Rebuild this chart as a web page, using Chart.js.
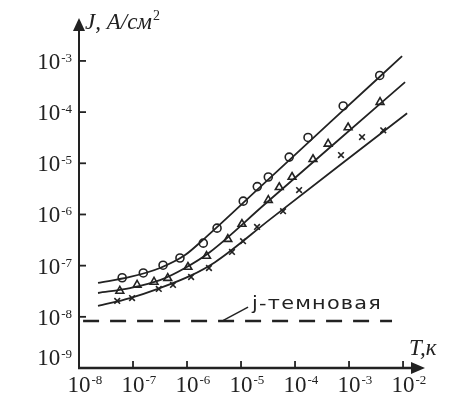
<!DOCTYPE html>
<html>
<head>
<meta charset="utf-8">
<script src="https://cdn.jsdelivr.net/npm/chart.js@4.4.0/dist/chart.umd.min.js"></script>
<style>
  html, body { margin: 0; padding: 0; background: #fff; }
  #wrap { width: 469px; height: 417px; }
</style>
</head>
<body>
<div id="wrap"><canvas id="chart" width="469" height="417"></canvas></div>
<script>
// ---- Данные (T — время, J — плотность тока, А/см²) ----
// Кружки
const circT = [6.3e-8, 1.55e-7, 3.6e-7, 7.4e-7, 2.0e-6, 3.6e-6, 1.1e-5, 2.0e-5, 3.2e-5, 7.8e-5, 1.74e-4, 7.8e-4, 3.7e-3];
const circJ = [5.8e-8, 7.2e-8, 1.02e-7, 1.41e-7, 2.75e-7, 5.4e-7, 1.82e-6, 3.5e-6, 5.4e-6, 1.32e-5, 3.2e-5, 1.32e-4, 5.2e-4];
// Треугольники
const triT = [5.7e-8, 1.19e-7, 2.45e-7, 4.4e-7, 1.04e-6, 2.3e-6, 5.7e-6, 1.04e-5, 3.2e-5, 5.1e-5, 8.8e-5, 2.15e-4, 4.1e-4, 9.6e-4, 3.75e-3];
const triJ = [3.2e-8, 4.2e-8, 4.8e-8, 5.7e-8, 9.4e-8, 1.54e-7, 3.3e-7, 6.5e-7, 1.91e-6, 3.4e-6, 5.4e-6, 1.2e-5, 2.4e-5, 5.0e-5, 1.57e-4];
// Крестики
const crossT = [5.1e-8, 9.6e-8, 3.0e-7, 5.5e-7, 1.19e-6, 2.55e-6, 6.8e-6, 1.09e-5, 1.98e-5, 6.0e-5, 1.19e-4, 7.1e-4, 1.74e-3, 4.3e-3];
const crossJ = [2.04e-8, 2.33e-8, 3.5e-8, 4.2e-8, 6.0e-8, 9.0e-8, 1.85e-7, 3.0e-7, 5.7e-7, 1.16e-6, 3.0e-6, 1.45e-5, 3.25e-5, 4.4e-5];

// Сглаженные кривые (опорные точки)
const circFitT = [2.25e-8, 8.8e-8, 3.16e-7, 9.2e-7, 2.15e-6, 2.25e-5, 4.45e-4, 9.6e-3];
const circFitJ = [4.6e-8, 6.0e-8, 9.0e-8, 1.61e-7, 3.46e-7, 3.41e-6, 6.28e-5, 1.24e-3];
const triFitT = [2.25e-8, 8.8e-8, 3.16e-7, 9.2e-7, 2.67e-6, 2.78e-5, 5.51e-4, 1.09e-2];
const triFitJ = [2.92e-8, 3.65e-8, 5.2e-8, 9.0e-8, 1.85e-7, 1.60e-6, 2.49e-5, 3.85e-4];
const crossFitT = [2.25e-8, 8.8e-8, 3.16e-7, 1.14e-6, 3.3e-6, 3.44e-5, 6.81e-4, 1.19e-2];
const crossFitJ = [1.63e-8, 2.33e-8, 3.65e-8, 6.3e-8, 1.17e-7, 8.03e-7, 9.25e-6, 9.5e-5];

// Темновой ток
const darkT = [1.19e-8, 6.25e-3];
const darkJ = [8.3e-9, 8.3e-9];
const darkLabel = 'j-темновая';
const darkLeader = [[4.7e-6, 8.5e-9], [1.35e-5, 1.55e-8]];

// Оси
const xTicks = [1e-8, 1e-7, 1e-6, 1e-5, 1e-4, 1e-3, 1e-2];
const xTickExp = ['-8', '-7', '-6', '-5', '-4', '-3', '-2'];
const yTicks = [1e-9, 1e-8, 1e-7, 1e-6, 1e-5, 1e-4, 1e-3];
const yTickExp = ['-9', '-8', '-7', '-6', '-5', '-4', '-3'];
const yTitle = 'J, A/см';
const xTitle = 'T,к';

const ink = '#222';
const pts = (xs, ys) => xs.map((x, i) => ({ x: x, y: ys[i] }));

// ======= Оси, подписи, стрелки =======
const axesPlugin = {
    id: 'axesDraw',
    afterDraw(chart) {
        const ctx = chart.ctx;
        const xs = chart.scales.x, ys = chart.scales.y;
        const x0 = xs.left, y0 = ys.bottom;
        ctx.save();
        ctx.strokeStyle = ink;
        ctx.fillStyle = ink;

        // ось Y
        ctx.lineWidth = 2;
        ctx.beginPath();
        ctx.moveTo(x0, y0 + 1);
        ctx.lineTo(x0, ys.top + 10);
        ctx.stroke();
        ctx.beginPath();
        ctx.moveTo(x0, ys.top);
        ctx.lineTo(x0 - 6, ys.top + 13);
        ctx.lineTo(x0 + 6, ys.top + 13);
        ctx.closePath();
        ctx.fill();

        // ось X
        ctx.lineWidth = 2.5;
        ctx.beginPath();
        ctx.moveTo(x0 - 1, y0);
        ctx.lineTo(xs.right - 10, y0);
        ctx.stroke();
        ctx.beginPath();
        ctx.moveTo(xs.right, y0);
        ctx.lineTo(xs.right - 14, y0 - 6);
        ctx.lineTo(xs.right - 14, y0 + 6);
        ctx.closePath();
        ctx.fill();

        const base = '23px "Liberation Serif", "Times New Roman", serif';
        const sup = '13px "Liberation Serif", "Times New Roman", serif';

        // деления и подписи X
        ctx.lineWidth = 1.8;
        xTicks.forEach((v, i) => {
            const px = xs.getPixelForValue(v);
            if (i > 0) {
                ctx.beginPath();
                ctx.moveTo(px, y0);
                ctx.lineTo(px, y0 - 7);
                ctx.stroke();
            }
            ctx.font = base;
            const w = ctx.measureText('10').width;
            ctx.textAlign = 'left';
            ctx.textBaseline = 'alphabetic';
            ctx.fillText('10', px - w / 2, 392);
            ctx.font = sup;
            ctx.fillText(xTickExp[i], px + w / 2 + 1, 384);
        });

        // деления и подписи Y
        yTicks.forEach((v, i) => {
            let py = ys.getPixelForValue(v);
            if (i > 0) {
                ctx.beginPath();
                ctx.moveTo(x0, py);
                ctx.lineTo(x0 + 7, py);
                ctx.stroke();
            } else {
                py -= 11;
            }
            ctx.font = base;
            const w = ctx.measureText('10').width;
            ctx.font = sup;
            const ws = ctx.measureText(yTickExp[i]).width;
            const left = x0 - 8 - ws - w;
            ctx.font = base;
            ctx.fillText('10', left, py + 8);
            ctx.font = sup;
            ctx.fillText(yTickExp[i], left + w + 1, py + 1);
        });

        // заголовки осей
        ctx.font = 'italic 23px "Liberation Serif", "Times New Roman", serif';
        ctx.fillText(yTitle, x0 + 6, ys.top + 11);
        const wt = ctx.measureText(yTitle).width;
        ctx.font = '14px "Liberation Serif", serif';
        ctx.fillText('2', x0 + 7 + wt, ys.top + 2);
        ctx.font = 'italic 23px "Liberation Serif", "Times New Roman", serif';
        ctx.fillText(xTitle, xs.right - 16, y0 - 13);

        // выноска темнового тока
        const a = darkLeader[0], b = darkLeader[1];
        const ax = xs.getPixelForValue(a[0]), ay = ys.getPixelForValue(a[1]);
        const bx = xs.getPixelForValue(b[0]), by = ys.getPixelForValue(b[1]);
        ctx.lineWidth = 1.5;
        ctx.beginPath();
        ctx.moveTo(ax, ay);
        ctx.lineTo(bx, by);
        ctx.stroke();
        // рукописная подпись: растягиваем по ширине до ~130px
        ctx.font = '17px "DejaVu Sans", sans-serif';
        if ('letterSpacing' in ctx) ctx.letterSpacing = '1px';
        const wl = ctx.measureText(darkLabel).width;
        ctx.translate(bx + 4, by + 2);
        ctx.scale(130 / wl, 1);
        ctx.fillText(darkLabel, 0, 0);
        ctx.restore();
    }
};

// ======= График =======
const markerSet = (xs, ys, style, r) => ({
    data: pts(xs, ys),
    showLine: false,
    pointStyle: style,
    pointRadius: r,
    pointBorderWidth: 1.6,
    pointBorderColor: ink,
    pointBackgroundColor: 'rgba(0,0,0,0)'
});
const curveSet = (xs, ys) => ({
    data: pts(xs, ys),
    showLine: true,
    borderColor: ink,
    borderWidth: 1.8,
    pointRadius: 0,
    cubicInterpolationMode: 'monotone'
});

new Chart(document.getElementById('chart').getContext('2d'), {
    type: 'scatter',
    data: {
        datasets: [
            curveSet(circFitT, circFitJ),
            curveSet(triFitT, triFitJ),
            curveSet(crossFitT, crossFitJ),
            markerSet(circT, circJ, 'circle', 4),
            markerSet(triT, triJ, 'triangle', 4.5),
            markerSet(crossT, crossJ, 'crossRot', 4),
            {
                data: pts(darkT, darkJ),
                showLine: true,
                borderColor: ink,
                borderWidth: 2.5,
                borderDash: [16, 11],
                pointRadius: 0
            }
        ]
    },
    options: {
        responsive: false,
        animation: false,
        layout: { padding: { left: 79, right: 44, top: 18, bottom: 49 } },
        plugins: {
            legend: { display: false },
            tooltip: { enabled: false }
        },
        scales: {
            x: { type: 'logarithmic', display: false, min: 1e-8, max: 0.0255 },
            y: { type: 'logarithmic', display: false, min: 1e-9, max: 6.9e-3 }
        }
    },
    plugins: [axesPlugin]
});
</script>
</body>
</html>
